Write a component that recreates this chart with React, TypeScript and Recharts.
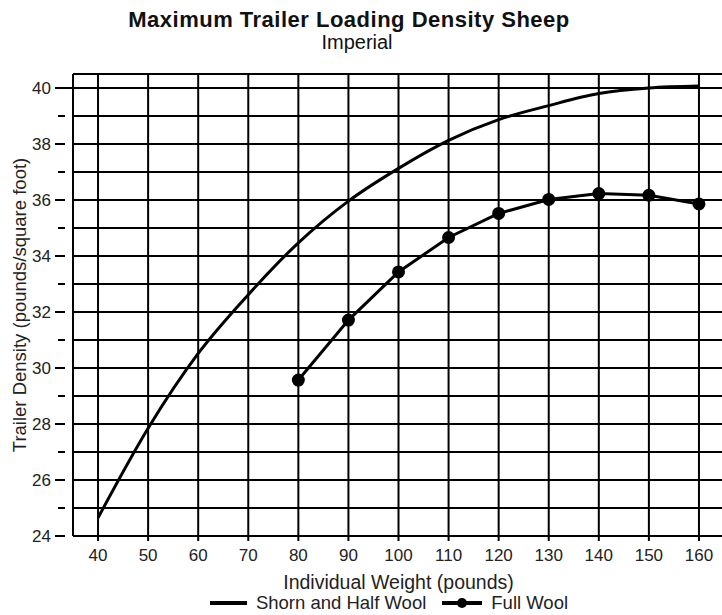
import { LineChart, Line, XAxis, YAxis, CartesianGrid, Legend, ReferenceLine } from "recharts";

// weights (pounds)
const weights = [40, 50, 60, 70, 80, 90, 100, 110, 120, 130, 140, 150, 160];
// trailer density (pounds/square foot)
const shornHalfWool = [24.65, 27.85, 30.52, 32.62, 34.47, 35.96, 37.13, 38.13, 38.87, 39.37, 39.8, 40.0, 40.07];
const fullWool = [null, null, null, null, 29.57, 31.71, 33.43, 34.66, 35.52, 36.02, 36.23, 36.17, 35.86];

const xTicks = [40, 50, 60, 70, 80, 90, 100, 110, 120, 130, 140, 150, 160];
const yTicks = [24, 25, 26, 27, 28, 29, 30, 31, 32, 33, 34, 35, 36, 37, 38, 39, 40];

const FONT = "'Liberation Sans', Arial, sans-serif";

const data = weights.map((w, i) => ({
  weight: w,
  shorn: shornHalfWool[i],
  full: fullWool[i],
}));

function YTick(props: any) {
  const { x, y, payload } = props;
  const v = payload.value;
  const major = v % 2 === 0;
  return (
    <g>
      <line x1={x - (major ? 10 : 7)} x2={x} y1={y} y2={y} stroke="#000" strokeWidth={2} />
      {v === 40 && <line x1={x} x2={x + 8} y1={y} y2={y} stroke="#000" strokeWidth={2} />}
      {major && (
        <text x={x - 14} y={y} dy={6} textAnchor="end" fontSize={17} fill="#222" fontFamily={FONT}>
          {v}
        </text>
      )}
    </g>
  );
}

function YLabel(props: any) {
  const { viewBox } = props;
  const cy = viewBox.y + viewBox.height / 2;
  return (
    <text x={20} y={cy} transform={`rotate(-90, 20, ${cy})`} dy={6} textAnchor="middle" fontSize={18.5} fill="#222" fontFamily={FONT}>
      Trailer Density (pounds/square foot)
    </text>
  );
}

function LegendContent() {
  return (
    <div style={{ display: "flex", justifyContent: "center", alignItems: "center", height: 22, fontFamily: FONT, fontSize: 18.5, color: "#222", paddingLeft: 54 }}>
      <svg width={37} height={12} style={{ marginRight: 9 }}>
        <line x1={0} x2={37} y1={6} y2={6} stroke="#000" strokeWidth={4} />
      </svg>
      <span style={{ marginRight: 16 }}>Shorn and Half Wool</span>
      <svg width={40} height={12} style={{ marginRight: 9 }}>
        <line x1={0} x2={40} y1={6} y2={6} stroke="#000" strokeWidth={4} />
        <circle cx={20} cy={6} r={5} fill="#000" />
      </svg>
      <span>Full Wool</span>
    </div>
  );
}

export default function App() {
  return (
    <div style={{ position: "absolute", left: 0, top: 0, width: 722, height: 615, overflow: "hidden", background: "#fff", fontFamily: FONT }}>
      <div style={{ position: "absolute", left: 0, width: 698, top: 9, lineHeight: 1, textAlign: "center", fontWeight: "bold", fontSize: 22, letterSpacing: 0.5, color: "#111" }}>
        Maximum Trailer Loading Density Sheep
      </div>
      <div style={{ position: "absolute", left: 0, width: 714, top: 31.5, lineHeight: 1, textAlign: "center", fontSize: 20, color: "#111" }}>
        Imperial
      </div>
      <LineChart width={724} height={615} data={data} margin={{ top: 74, right: 0, left: 0, bottom: 4 }}>
        <CartesianGrid stroke="#000" strokeWidth={2} />
        <ReferenceLine y={40.5} stroke="#000" strokeWidth={2} ifOverflow="extendDomain" />
        <XAxis
          dataKey="weight"
          type="number"
          domain={[35, 165]}
          ticks={xTicks}
          axisLine={{ stroke: "#000", strokeWidth: 2 }}
          tickLine={{ stroke: "#000", strokeWidth: 2 }}
          tickSize={5}
          tickMargin={8}
          height={53}
          tick={{ fontSize: 17, fill: "#222", fontFamily: FONT }}
          label={{ value: "Individual Weight (pounds)", position: "insideBottom", offset: 0, style: { fontSize: 19.5 }, fill: "#222", fontFamily: FONT }}
        />
        <YAxis
          type="number"
          domain={[24, 40.5]}
          ticks={yTicks}
          interval={0}
          width={73}
          axisLine={{ stroke: "#000", strokeWidth: 2 }}
          tickLine={false}
          tick={<YTick />}
          label={<YLabel />}
        />
        <Legend verticalAlign="bottom" content={<LegendContent />} wrapperStyle={{ height: 22, top: 592, bottom: "auto" }} />
        <Line dataKey="shorn" name="Shorn and Half Wool" stroke="#000" strokeWidth={3} dot={false} type="monotone" isAnimationActive={false} />
        <Line dataKey="full" name="Full Wool" stroke="#000" strokeWidth={3} dot={{ r: 5, fill: "#000", stroke: "#000" }} isAnimationActive={false} />
      </LineChart>
    </div>
  );
}
